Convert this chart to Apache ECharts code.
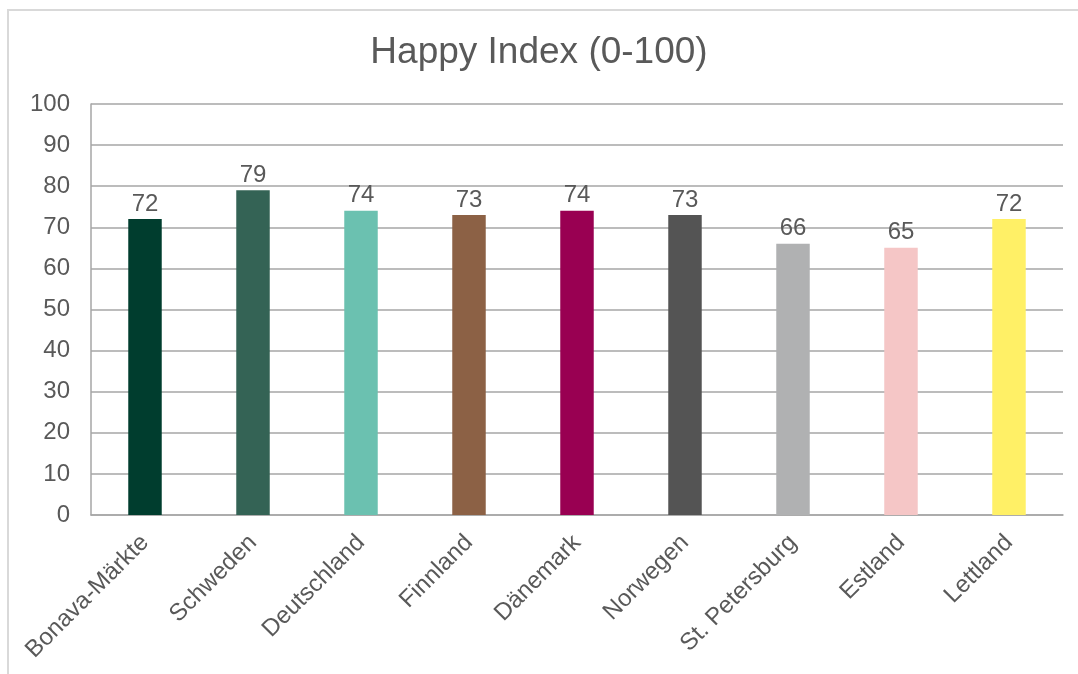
<!DOCTYPE html>
<html>
<head>
<meta charset="utf-8">
<script src="https://cdn.jsdelivr.net/npm/echarts@6/dist/echarts.min.js"></script>
<style>
  html, body { margin: 0; padding: 0; background: #fff; }
  #main { width: 1078px; height: 674px; }
</style>
</head>
<body>
<div id="main"></div>
<script>
// data
var categories = ["Bonava-Märkte", "Schweden", "Deutschland", "Finnland", "Dänemark", "Norwegen", "St. Petersburg", "Estland", "Lettland"];
var values = [72, 79, 74, 73, 74, 73, 66, 65, 72];
var barColors = ["#003d2e", "#346355", "#6bc1b0", "#8c6145", "#990052", "#545454", "#b0b1b2", "#f5c6c6", "#fff066"];

var textColor = "#595959";
var font = "Liberation Sans, Arial, sans-serif";

var chart = echarts.init(document.getElementById("main"));
chart.setOption({
  backgroundColor: "#FFFFFF",
  animation: false,
  textStyle: { fontFamily: font },
  title: {
    text: "Happy Index (0-100)",
    left: "center",
    top: 29,
    textStyle: {
      fontFamily: font,
      fontSize: 37,
      fontWeight: "normal",
      color: textColor
    }
  },
  graphic: [{
    // light frame round the chart
    type: "rect",
    shape: { x: 8, y: 10, width: 1100, height: 700 },
    style: { fill: "none", stroke: "#d9d9d9", lineWidth: 2 },
    silent: true
  }],
  grid: {
    left: 91,
    right: 15,
    top: 104,
    bottom: 159
  },
  xAxis: {
    type: "category",
    data: categories,
    axisLine: { lineStyle: { color: "#a6a6a6", width: 1.5 } },
    axisTick: { show: false },
    axisLabel: {
      rotate: 45,
      margin: 24,
      interval: 0,
      fontSize: 24,
      color: textColor,
      fontFamily: font
    }
  },
  yAxis: {
    type: "value",
    min: 0,
    max: 100,
    interval: 10,
    axisLine: { show: true, lineStyle: { color: "#a6a6a6", width: 1.5 } },
    axisTick: { show: false },
    axisLabel: {
      margin: 21,
      fontSize: 24,
      color: textColor,
      fontFamily: font
    },
    splitLine: { lineStyle: { color: "#a6a6a6", width: 1.5 } }
  },
  series: [{
    type: "bar",
    barWidth: "31%",
    data: values.map(function (v, i) {
      return { value: v, itemStyle: { color: barColors[i] } };
    }),
    label: {
      show: true,
      position: "top",
      distance: 3,
      fontSize: 24,
      color: textColor,
      fontFamily: font
    }
  }]
});
</script>
</body>
</html>
